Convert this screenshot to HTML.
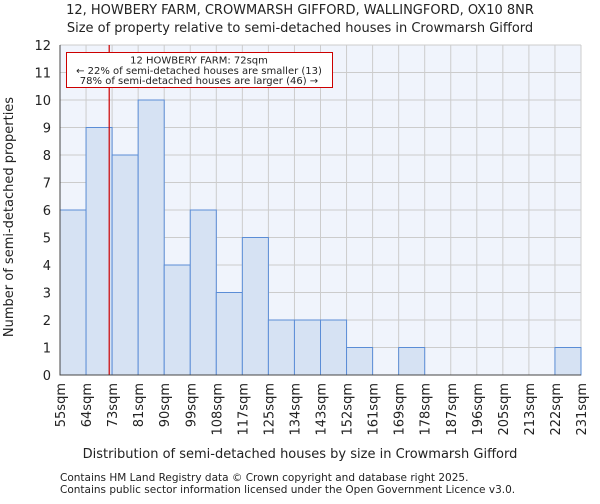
<!DOCTYPE html>
<html><head><meta charset="utf-8"><style>
body{margin:0;background:#fff;font-family:"DejaVu Sans","Liberation Sans",sans-serif;}
svg text{font-family:"DejaVu Sans","Liberation Sans",sans-serif;fill:#222;}
</style></head><body>
<svg id="chart" width="600" height="500" xmlns="http://www.w3.org/2000/svg">
<text x="300" y="14" font-size="13" text-anchor="middle">12, HOWBERY FARM, CROWMARSH GIFFORD, WALLINGFORD, OX10 8NR</text>
<text x="300" y="32" font-size="13" text-anchor="middle">Size of property relative to semi-detached houses in Crowmarsh Gifford</text>
<rect x="60" y="45" width="521" height="330" fill="#f0f4fc"/>
<g id="grid"></g><g id="bars"></g><g id="axes"></g>
<text x="300" y="458" font-size="13" text-anchor="middle">Distribution of semi-detached houses by size in Crowmarsh Gifford</text>
<text transform="translate(13,217) rotate(-90)" font-size="13" text-anchor="middle">Number of semi-detached properties</text>
<text x="60" y="481" font-size="10.5">Contains HM Land Registry data © Crown copyright and database right 2025.</text>
<text x="60" y="493" font-size="10.5">Contains public sector information licensed under the Open Government Licence v3.0.</text>
</svg>
<script>
const binLabels=["55sqm","64sqm","73sqm","81sqm","90sqm","99sqm","108sqm","117sqm","125sqm","134sqm","143sqm","152sqm","161sqm","169sqm","178sqm","187sqm","196sqm","205sqm","213sqm","222sqm","231sqm"];
const binEdges=[55,64,73,81,90,99,108,117,125,134,143,152,161,169,178,187,196,205,213,222,231];
const counts=[6,9,8,10,4,6,3,5,2,2,2,1,0,1,0,0,0,0,0,1];
const yTicks=[0,1,2,3,4,5,6,7,8,9,10,11,12];
const markerValue=72;
const annotation=["12 HOWBERY FARM: 72sqm","← 22% of semi-detached houses are smaller (13)","78% of semi-detached houses are larger (46) →"];
const X0=60,X1=581,Y0=375,Y1=45,YMAX=12;
const bw=(X1-X0)/counts.length;
const xi=i=>X0+i*bw;
const y=v=>Y0-(v/YMAX)*(Y0-Y1);
function xv(v){for(let i=0;i<binEdges.length-1;i++){if(v<=binEdges[i+1])return xi(i+(v-binEdges[i])/(binEdges[i+1]-binEdges[i]));}return X1;}
const NS="http://www.w3.org/2000/svg";
function mk(p,t,a){const e=document.createElementNS(NS,t);for(const k in a)e.setAttribute(k,a[k]);p.appendChild(e);return e;}
const grid=document.getElementById('grid'),bars=document.getElementById('bars'),axes=document.getElementById('axes');
yTicks.forEach(t=>{
 const l=mk(grid,'line',{x1:X0,x2:X1,y1:y(t),y2:y(t),stroke:'#ccc','stroke-width':1});
 
 
 const tx=mk(axes,'text',{x:X0-9,y:y(t)+5,'font-size':13,'text-anchor':'end'});tx.textContent=t;
 
 
});
binLabels.forEach((s,i)=>{
 const l=mk(grid,'line',{x1:xi(i),x2:xi(i),y1:Y1,y2:Y0,stroke:'#ccc','stroke-width':1});
 
 
 const tx=mk(axes,'text',{transform:`translate(${xi(i)+5},${Y0+8}) rotate(-90)`,'font-size':13,'text-anchor':'end'});tx.textContent=s;
 
 
});
counts.forEach((c,i)=>{
 if(c<=0)return;
 const r=mk(bars,'rect',{x:xi(i),y:y(c),width:bw,height:Y0-y(c),fill:'#d6e2f3',stroke:'#5b8dd6','stroke-width':1});
 
 
});
const ml=mk(axes,'line',{x1:xv(markerValue),x2:xv(markerValue),y1:Y1,y2:Y0,stroke:'#cc0000','stroke-width':1.2});


const box=mk(axes,'rect',{x:66.5,y:52.5,width:266,height:35,fill:'#fff',stroke:'#cc0000','stroke-width':1});


annotation.forEach((s,k)=>{
 const t=mk(axes,'text',{x:199,y:63.5+k*10.3,'font-size':10,'text-anchor':'middle'});t.textContent=s;
 
 
});
const ax=mk(axes,'path',{d:`M${X0},${Y1}V${Y0}H${X1}`,fill:'none',stroke:'#444','stroke-width':1});


</script>
</body></html>
